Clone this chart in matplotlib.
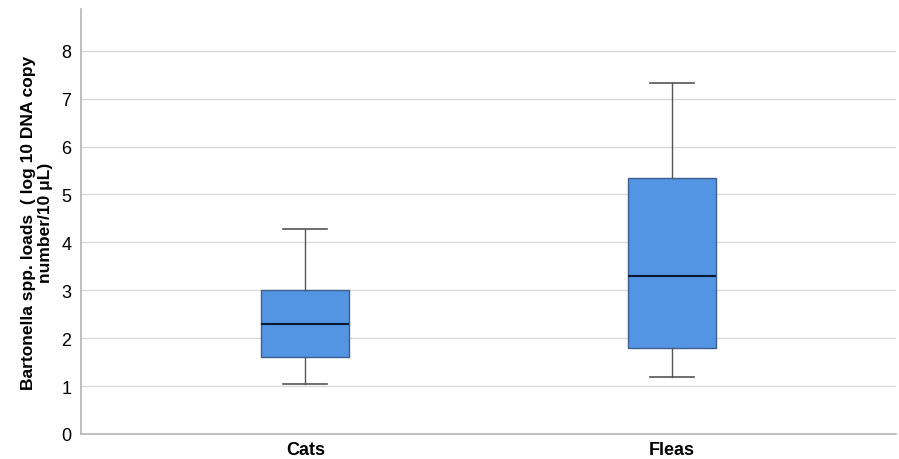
import matplotlib
matplotlib.use("Agg")
import matplotlib.pyplot as plt

plt.rcParams["font.family"] = ["Liberation Sans", "DejaVu Sans"]

categories = ["Cats", "Fleas"]
whisker_low = [1.04, 1.20]
q1 = [1.61, 1.80]
median = [2.29, 3.29]
q3 = [3.01, 5.34]
whisker_high = [4.27, 7.32]
yticks = [0, 1, 2, 3, 4, 5, 6, 7, 8]

fig = plt.figure(figsize=(8.99, 4.60), dpi=100)
ax = fig.add_axes([81/899, 25/460, (896-81)/899, (435-10)/460])

stats = []
for i, c in enumerate(categories):
    stats.append(dict(label=c, whislo=whisker_low[i], q1=q1[i], med=median[i],
                      q3=q3[i], whishi=whisker_high[i], fliers=[]))

ax.set_axisbelow(True)
ax.yaxis.grid(True, color="#d9d9d9", linewidth=1.0)
ax.bxp(stats, positions=range(len(categories)), widths=0.24, patch_artist=True,
       showfliers=False,
       boxprops=dict(facecolor="#5394e3", edgecolor="#3d5f8a", linewidth=1.0),
       medianprops=dict(color="#0a1a33", linewidth=1.5),
       whiskerprops=dict(color="#555555", linewidth=1.0),
       capprops=dict(color="#555555", linewidth=1.2),
       capwidths=0.12)

ax.set_xlim(-0.612, 1.612)
ax.set_ylim(0, 8.87)
ax.set_yticks(yticks)
ax.set_yticklabels([str(t) for t in yticks], fontsize=13)
ax.set_xticks(range(len(categories)))
ax.set_xticklabels(categories, fontsize=13, fontweight="bold")
ax.tick_params(axis="x", length=0, pad=5)
ax.tick_params(axis="y", length=0, pad=7)
for s in ["top", "right"]:
    ax.spines[s].set_visible(False)
for s in ["left", "bottom"]:
    ax.spines[s].set_color("#b5b5b5")
    ax.spines[s].set_linewidth(1.2)

ax.set_ylabel("Bartonella spp. loads  ( log 10 DNA copy\nnumber/10 μL)",
              fontsize=12.5, fontweight="bold", linespacing=1.15, labelpad=6)

fig.savefig("out.png", dpi=100)
